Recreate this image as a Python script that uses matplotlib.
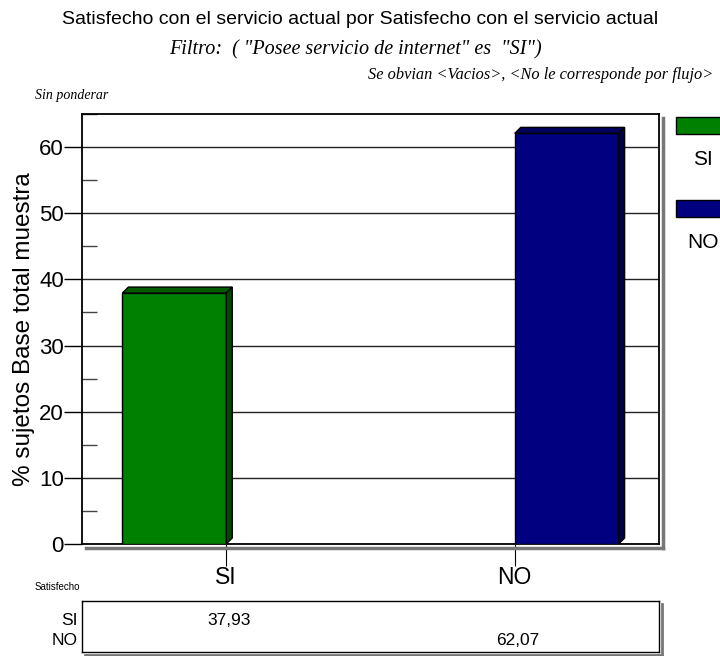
import numpy as np
import matplotlib.pyplot as plt
from matplotlib.patches import Polygon, Rectangle
from matplotlib.ticker import MultipleLocator

categories = ['SI', 'NO']
series = ['SI', 'NO']
values = {'SI': [37.93, 0.0], 'NO': [0.0, 62.07]}
table_text = ['37,93', '62,07']
colors = {'SI': ('#008000', '#005c00', '#004a00'),
          'NO': ('#000080', '#00005c', '#00004a')}

sans = ['Liberation Sans', 'DejaVu Sans']
serif = ['Liberation Serif', 'DejaVu Serif']

fig = plt.figure(figsize=(7.2, 6.56), dpi=100)
W, H = 720, 656

def box(l, t, r, b):
    return [l / W, 1 - b / H, (r - l) / W, (b - t) / H]

ax = fig.add_axes(box(82, 114, 659, 544))
ax.set_xlim(0, 2)
ax.set_ylim(0, 65)

w = 0.36
x = np.arange(len(categories)) + 0.5
dxp, dyp = 6, 6
dx = dxp / 577 * 2
dy = dyp / 430 * 65
for i, s in enumerate(series):
    front, top, side = colors[s]
    for j, v in enumerate(values[s]):
        if v <= 0:
            continue
        x0 = x[j] - w + i * w
        x1 = x0 + w
        ax.add_patch(Rectangle((x0, 0), w, v, facecolor=front,
                               edgecolor='black', lw=1, zorder=3))
        ax.add_patch(Polygon([(x0, v), (x1, v), (x1 + dx, v + dy), (x0 + dx, v + dy)],
                             closed=True, facecolor=top, edgecolor='black', lw=1, zorder=3))
        ax.add_patch(Polygon([(x1, 0), (x1 + dx, dy), (x1 + dx, v + dy), (x1, v)],
                             closed=True, facecolor=side, edgecolor='black', lw=1, zorder=3))

ax.yaxis.set_major_locator(MultipleLocator(10))
ax.yaxis.set_minor_locator(MultipleLocator(5))
ax.grid(axis='y', which='major', color='#222222', lw=1, zorder=1)
ax.tick_params(axis='y', which='major', direction='out', length=13, width=1,
               labelsize=16, pad=0)
ax.tick_params(axis='y', which='minor', direction='in', length=11, width=1, color='#444444')
ax.set_xticks(x)
ax.set_xticklabels(categories)
ax.tick_params(axis='x', direction='out', length=16, width=0.8, labelsize=16.5, pad=0)
for lab in ax.get_xticklabels() + ax.get_yticklabels():
    lab.set_family(sans)
for sp in ax.spines.values():
    sp.set_linewidth(1.3)
ax.set_ylabel('% sujetos Base total muestra', fontsize=17.5, family=sans, labelpad=3)

# sombra del marco
fig.add_artist(plt.Line2D([663 / W, 663 / W], [1 - 118 / H, 1 - 548 / H],
                          color='#777777', lw=2.5))
fig.add_artist(plt.Line2D([86 / W, 663 / W], [1 - 548 / H, 1 - 548 / H],
                          color='#777777', lw=2.5))

fig.text(360 / W, 1 - 20 / H, 'Satisfecho con el servicio actual por Satisfecho con el servicio actual',
         ha='center', va='center', fontsize=14, family=sans)
fig.text(355 / W, 1 - 50 / H, 'Filtro:  ( "Posee servicio de internet" es  "SI")',
         ha='center', va='center', fontsize=14.5, style='italic', family=serif)
fig.text(713 / W, 1 - 75 / H, 'Se obvian <Vacios>, <No le corresponde por flujo>',
         ha='right', va='center', fontsize=11.8, style='italic', family=serif)
fig.text(35 / W, 1 - 96 / H, 'Sin ponderar',
         ha='left', va='center', fontsize=10, style='italic', family=serif)

# leyenda
ly = [117, 200]
for s, yy in zip(series, ly):
    fig.add_artist(Rectangle((676 / W, 1 - (yy + 17) / H), 50 / W, 17 / H,
                             facecolor=colors[s][0], edgecolor='black', lw=1))
    fig.text(703 / W, 1 - (yy + 42) / H, s, ha='center', va='center',
             fontsize=15, family=sans)

# tabla de datos
fig.text(35 / W, 1 - 587 / H, 'Satisfecho', ha='left', va='center',
         fontsize=7, family=sans)
tax = fig.add_axes(box(82, 601, 659, 652))
tax.set_xlim(0, 2)
tax.set_ylim(0, 2)
tax.set_xticks([])
tax.set_yticks([])
for sp in tax.spines.values():
    sp.set_linewidth(1)
fig.add_artist(plt.Line2D([662 / W, 662 / W], [1 - 604 / H, 1 - 655 / H],
                          color='#777777', lw=2))
fig.add_artist(plt.Line2D([85 / W, 662 / W], [1 - 655 / H, 1 - 655 / H],
                          color='#777777', lw=2))
row_y = [1.25, 0.45]
for i, s in enumerate(series):
    tax.text(-0.008, row_y[i], s, transform=tax.get_yaxis_transform(), ha='right',
             va='center', fontsize=12.5, family=sans)
    tax.text(x[i] + 0.01, row_y[i], table_text[i], ha='center', va='center',
             fontsize=12.5, family=sans)

fig.savefig('out.png', dpi=100)
